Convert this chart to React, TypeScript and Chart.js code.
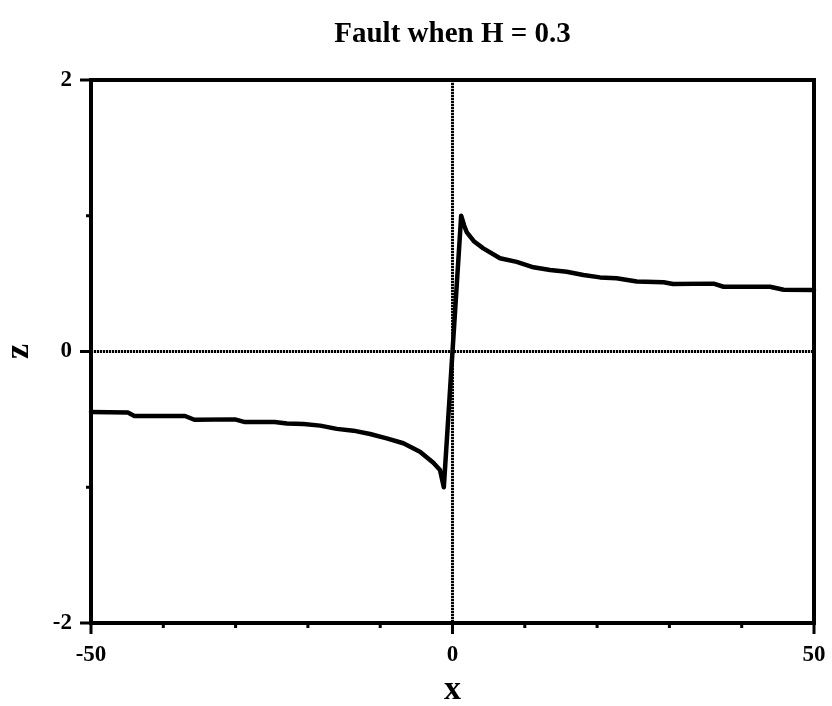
import React, { useEffect, useRef } from "react";
import { Chart, registerables } from "chart.js";

Chart.register(...registerables);

const TITLE = "Fault when H = 0.3";
const X_LABEL = "x";
const Y_LABEL = "z";

const X_MIN = -50;
const X_MAX = 50;
const X_STEP = 10;
const X_LABELED = [-50, 0, 50];

const Y_MIN = -2;
const Y_MAX = 2;
const Y_STEP = 1;
const Y_LABELED = [-2, 0, 2];

const CURVE_X = [
  -50, -44.9, -44, -37, -35.7, -30.1, -28.7, -24.6, -22.9, -20.6, -18.3, -16.0,
  -13.7, -11.4, -9.1, -6.8, -4.5, -2.65, -1.73, -1.2,
  1.2, 1.6, 1.96, 3.0, 4.26, 6.57, 8.88, 11.2, 13.5, 15.8, 18.1, 20.4, 22.7,
  25.5, 29.2, 30.5, 36.1, 37.5, 43.9, 45.8, 50,
];
const CURVE_Z = [
  -0.445, -0.45, -0.475, -0.475, -0.503, -0.5, -0.52, -0.52, -0.53, -0.534, -0.546, -0.57,
  -0.583, -0.608, -0.64, -0.676, -0.738, -0.82, -0.873, -1.0,
  1.0, 0.93, 0.88, 0.81, 0.76, 0.687, 0.66, 0.62, 0.6, 0.588, 0.564, 0.546, 0.539,
  0.515, 0.51, 0.497, 0.5, 0.477, 0.477, 0.455, 0.453,
];

const FONT = "'Liberation Serif', 'Times New Roman', serif";

const framePlugin = {
  id: "frame",
  beforeDatasetsDraw(chart: any) {
    const { ctx, chartArea, scales } = chart;
    const x0 = scales.x.getPixelForValue(0);
    const y0 = scales.y.getPixelForValue(0);
    ctx.save();
    ctx.strokeStyle = "#000";
    ctx.lineWidth = 3;
    ctx.setLineDash([2.2, 0.8]);
    ctx.beginPath();
    ctx.moveTo(chartArea.left, y0);
    ctx.lineTo(chartArea.right, y0);
    ctx.moveTo(x0, chartArea.top);
    ctx.lineTo(x0, chartArea.bottom);
    ctx.stroke();
    ctx.restore();
  },
  afterDatasetsDraw(chart: any) {
    const { ctx, chartArea, scales } = chart;
    ctx.save();
    ctx.strokeStyle = "#000";
    ctx.setLineDash([]);
    ctx.lineWidth = 3;
    ctx.lineCap = "butt";
    ctx.beginPath();
    for (const t of scales.x.ticks) {
      const px = scales.x.getPixelForValue(t.value);
      const len = X_LABELED.includes(t.value) ? 11 : 5;
      ctx.moveTo(px, chartArea.bottom);
      ctx.lineTo(px, chartArea.bottom + len);
    }
    for (const t of scales.y.ticks) {
      const py = scales.y.getPixelForValue(t.value);
      const len = Y_LABELED.includes(t.value) ? 11 : 5;
      ctx.moveTo(chartArea.left, py);
      ctx.lineTo(chartArea.left - len, py);
    }
    ctx.stroke();
    ctx.lineWidth = 4;
    ctx.strokeRect(
      chartArea.left,
      chartArea.top,
      chartArea.right - chartArea.left,
      chartArea.bottom - chartArea.top
    );
    ctx.restore();
  },
};

export default function App() {
  const ref = useRef<HTMLCanvasElement | null>(null);

  useEffect(() => {
    if (!ref.current) return;
    const data = CURVE_X.map((x, i) => ({ x, y: CURVE_Z[i] }));
    const chart = new Chart(ref.current, {
      type: "scatter",
      data: {
        datasets: [
          {
            data,
            showLine: true,
            borderColor: "#000",
            borderWidth: 4.5,
            pointRadius: 0,
            tension: 0,
            borderJoinStyle: "round",
            borderCapStyle: "round",
            clip: false,
          } as any,
        ],
      },
      options: {
        animation: false,
        responsive: false,
        devicePixelRatio: 1,
        layout: { padding: { left: 0, right: 18, top: 0, bottom: 0 } },
        plugins: {
          legend: { display: false },
          tooltip: { enabled: false },
          title: {
            display: true,
            text: TITLE,
            fullSize: false,
            color: "#000",
            font: { family: FONT, size: 29, weight: "bold", lineHeight: 1 },
            padding: { top: 20, bottom: 31 },
          },
        },
        scales: {
          x: {
            type: "linear",
            min: X_MIN,
            max: X_MAX,
            grid: { display: false, drawTicks: false },
            border: { display: false },
            ticks: {
              stepSize: X_STEP,
              autoSkip: false,
              maxRotation: 0,
              padding: 18,
              color: "#000",
              font: { family: FONT, size: 23, weight: "bold", lineHeight: 1.2 },
              callback: (v: any) => (X_LABELED.includes(Number(v)) ? String(v) : ""),
            },
            title: {
              display: true,
              text: X_LABEL,
              color: "#000",
              font: { family: FONT, size: 34, weight: "bold", lineHeight: 1 },
              padding: { top: 0, bottom: -1 },
            },
            afterFit: (scale: any) => {
              scale.height = 83;
              scale.paddingLeft = 0;
              scale.paddingRight = 0;
            },
          },
          y: {
            type: "linear",
            min: Y_MIN,
            max: Y_MAX,
            grid: { display: false, drawTicks: false },
            border: { display: false },
            ticks: {
              stepSize: Y_STEP,
              autoSkip: false,
              padding: 19,
              color: "#000",
              font: { family: FONT, size: 23, weight: "bold", lineHeight: 1.2 },
              callback: (v: any) => (Y_LABELED.includes(Number(v)) ? String(v) : ""),
            },
            title: {
              display: true,
              text: Y_LABEL,
              color: "#000",
              font: { family: FONT, size: 34, weight: "bold", lineHeight: 1 },
              padding: { top: 2, bottom: 0 },
            },
            afterFit: (scale: any) => {
              scale.width = 91;
            },
          },
        },
      },
      plugins: [framePlugin],
    });
    return () => chart.destroy();
  }, []);

  return (
    <div style={{ position: "absolute", left: 0, top: 0, width: 832, height: 706, background: "#fff" }}>
      <canvas ref={ref} width={832} height={706} style={{ width: 832, height: 706, display: "block" }} />
    </div>
  );
}
